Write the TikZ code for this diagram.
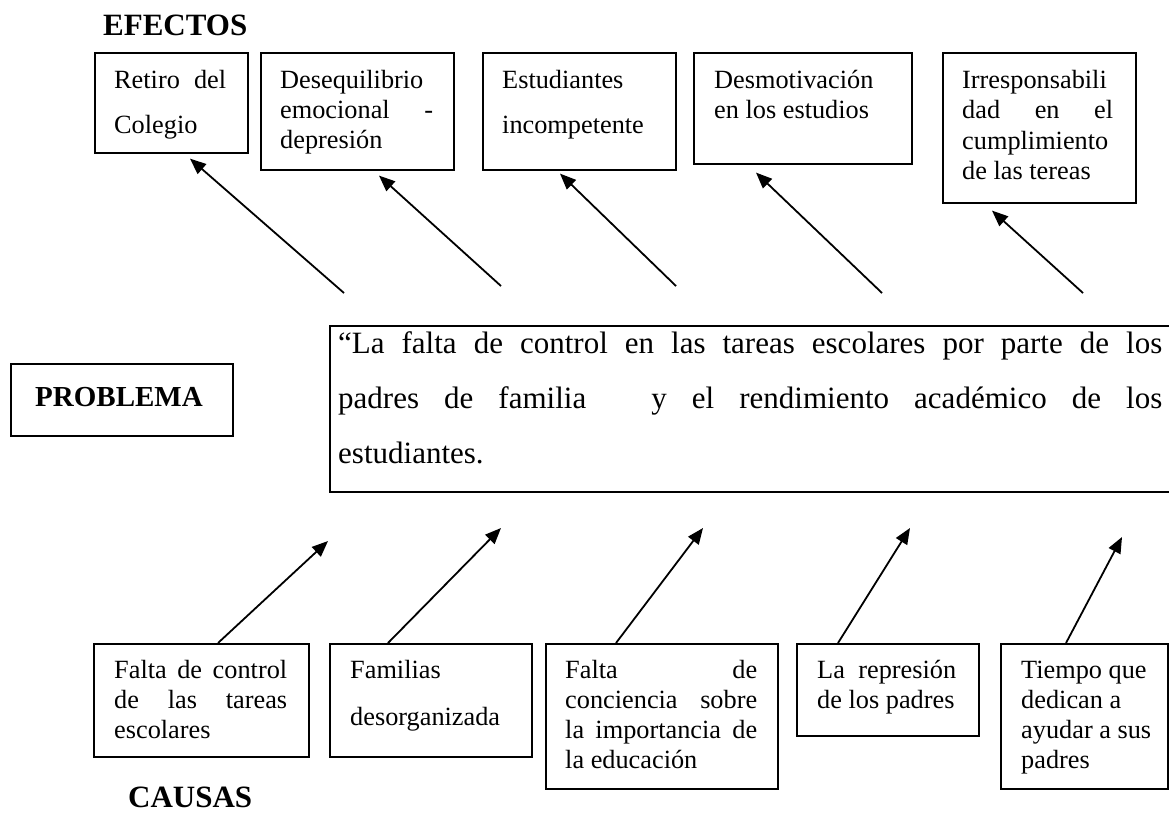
\documentclass[tikz,border=0pt]{standalone}
\usepackage{fontspec}
\setmainfont{Liberation Serif}
\usetikzlibrary{arrows.meta}
\newcommand{\jl}[2]{\makebox[#1][s]{#2}}
\begin{document}
\begin{tikzpicture}[x=1pt,y=-1pt,
  box/.style={draw, line width=1.6pt, inner sep=0pt, anchor=north west},
  txt/.style={inner sep=0pt, anchor=base west, font=\fontsize{26.3}{30}\selectfont},
  head/.style={inner sep=0pt, anchor=base west, font=\fontsize{31}{31}\selectfont\bfseries},
  arr/.style={line width=1.8pt, -{Triangle[length=16pt,width=13pt]}}]
\useasboundingbox (0,0) rectangle (1169,812);

% headings
\node[head] (efectos) at (103,35) {EFECTOS};
\node[head] (causas) at (128,807) {CAUSAS};

% effect boxes
\node[box, minimum width=153pt, minimum height=100pt] (e1) at (94,52) {};
\node[box, minimum width=193pt, minimum height=117pt] (e2) at (260,52) {};
\node[box, minimum width=193pt, minimum height=117pt] (e3) at (482,52) {};
\node[box, minimum width=218pt, minimum height=111pt] (e4) at (693,52) {};
\node[box, minimum width=193pt, minimum height=150pt] (e5) at (942,52) {};

\node[txt] (e1t) at (114,88) {\parbox[t]{112pt}{\fontsize{26.3}{45}\selectfont\jl{112pt}{Retiro del}\\Colegio}};
\node[txt] (e2t) at (280,88) {\parbox[t]{153pt}{\fontsize{26.3}{30}\selectfont Desequilibrio\\\jl{153pt}{emocional -}\\depresión}};
\node[txt] (e3t) at (502,88) {\parbox[t]{160pt}{\fontsize{26.3}{45}\selectfont Estudiantes\\incompetente}};
\node[txt] (e4t) at (714,88) {\parbox[t]{180pt}{\fontsize{26.3}{30}\selectfont Desmotivación\\en los estudios}};
\node[txt] (e5t) at (962,88) {\parbox[t]{151pt}{\fontsize{26.3}{30.5}\selectfont Irresponsabili\\\jl{151pt}{dad en el}\\cumplimiento\\de las tereas}};

% problem
\node[box, minimum width=222pt, minimum height=72pt] (plabel) at (10,363) {};
\node[inner sep=0pt, anchor=base west, font=\fontsize{29}{29}\selectfont\bfseries] (plabelt) at (35,406) {PROBLEMA};
\node[box, minimum width=860pt, minimum height=166pt] (prob) at (329,325) {};
\node[inner sep=0pt, anchor=base west] (probt) at (338,353) {\parbox[t]{824pt}{\fontsize{31}{55}\selectfont
  \jl{824pt}{“La falta de control en las tareas escolares por parte de los}\\
  \jl{824pt}{padres de familia\hspace{40pt}\ y el rendimiento académico de los}\\
  estudiantes.}};

% cause boxes
\node[box, minimum width=215pt, minimum height=113pt] (c1) at (93,643) {};
\node[box, minimum width=202pt, minimum height=113pt] (c2) at (329,643) {};
\node[box, minimum width=232pt, minimum height=145pt] (c3) at (545,643) {};
\node[box, minimum width=182pt, minimum height=92pt] (c4) at (796,643) {};
\node[box, minimum width=167pt, minimum height=145pt] (c5) at (1000,643) {};

\node[txt] (c1t) at (114,678) {\parbox[t]{173pt}{\fontsize{26.3}{30}\selectfont\jl{173pt}{Falta de control}\\\jl{173pt}{de las tareas}\\escolares}};
\node[txt] (c2t) at (350,678) {\parbox[t]{175pt}{\fontsize{26.3}{47}\selectfont Familias\\desorganizada}};
\node[txt] (c3t) at (565,678) {\parbox[t]{192pt}{\fontsize{26.3}{30}\selectfont\jl{192pt}{Falta de}\\\jl{192pt}{conciencia sobre}\\\jl{192pt}{la importancia de}\\la educación}};
\node[txt] (c4t) at (817,678) {\parbox[t]{139pt}{\fontsize{26.3}{30}\selectfont\jl{139pt}{La\ represión}\\de los padres}};
\node[txt] (c5t) at (1021,678) {\parbox[t]{140pt}{\fontsize{26.3}{30}\selectfont Tiempo que\\dedican a\\ayudar a sus\\padres}};

% effect arrows
\coordinate (t1) at (344,293);
\coordinate (t2) at (501,286);
\coordinate (t3) at (676,286);
\coordinate (t4) at (882,293);
\coordinate (t5) at (1083,293);
\coordinate (h1) at ([xshift=96pt,yshift=-5pt]e1.south west);
\coordinate (h2) at ([xshift=119pt,yshift=-5pt]e2.south west);
\coordinate (h3) at ([xshift=78pt,yshift=-3pt]e3.south west);
\coordinate (h4) at ([xshift=63pt,yshift=-8pt]e4.south west);
\coordinate (h5) at ([xshift=50pt,yshift=-7pt]e5.south west);
\foreach \i in {1,...,5} \draw[arr] (t\i) -- (h\i);

% cause arrows
\coordinate (k1) at (328,541);
\coordinate (k2) at (501,528);
\coordinate (k3) at (703,528);
\coordinate (k4) at (910,528);
\coordinate (k5) at (1122,537);
\draw[arr] ([xshift=125pt]c1.north west) -- (k1);
\draw[arr] ([xshift=59pt]c2.north west) -- (k2);
\draw[arr] ([xshift=71pt]c3.north west) -- (k3);
\draw[arr] ([xshift=42pt]c4.north west) -- (k4);
\draw[arr] ([xshift=66pt]c5.north west) -- (k5);
\end{tikzpicture}
\end{document}
